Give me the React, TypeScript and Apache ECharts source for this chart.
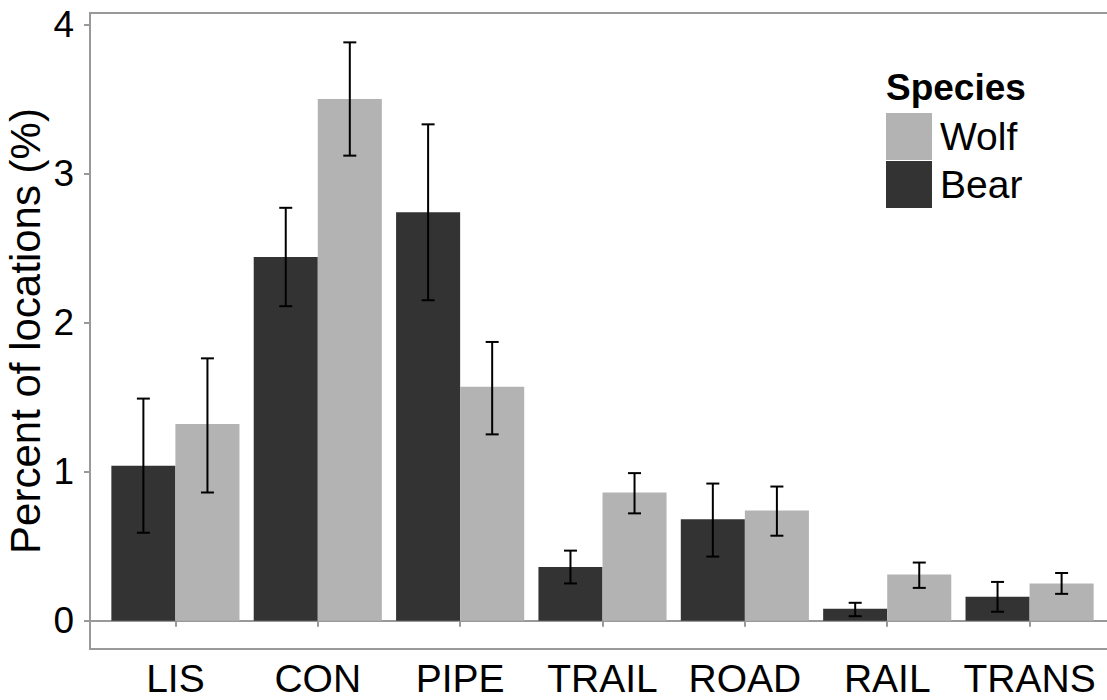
import React, { useEffect, useRef } from "react";
import * as echarts from "echarts";

const categories = ["LIS", "CON", "PIPE", "TRAIL", "ROAD", "RAIL", "TRANS"];
const bearMean = [1.04, 2.44, 2.74, 0.36, 0.68, 0.08, 0.16];
const bearLow = [0.59, 2.11, 2.15, 0.25, 0.43, 0.03, 0.06];
const bearHigh = [1.49, 2.77, 3.33, 0.47, 0.92, 0.12, 0.26];
const wolfMean = [1.32, 3.5, 1.57, 0.86, 0.74, 0.31, 0.25];
const wolfLow = [0.86, 3.12, 1.25, 0.72, 0.57, 0.22, 0.18];
const wolfHigh = [1.76, 3.88, 1.87, 0.99, 0.9, 0.39, 0.32];
const yTicks = [0, 1, 2, 3, 4];
const xTicks = [1, 2, 3, 4, 5, 6, 7];

const BEAR = "#333333";
const WOLF = "#b3b3b3";
const FONT = "'Liberation Sans', Arial, sans-serif";
const HALF = 0.225;

function barRender(offset: number) {
  return (params: any, api: any) => {
    const x = api.value(0) + offset;
    const v = api.value(1);
    const p1 = api.coord([x - HALF, v]);
    const p2 = api.coord([x + HALF, 0]);
    return {
      type: "rect",
      shape: { x: p1[0], y: p1[1], width: p2[0] - p1[0], height: p2[1] - p1[1] },
      style: { fill: api.visual("color") },
    };
  };
}

function errRender(offset: number) {
  return (params: any, api: any) => {
    const x = api.value(0) + offset;
    const lo = api.coord([x, api.value(1)]);
    const hi = api.coord([x, api.value(2)]);
    const cap = 6.5;
    const st = { stroke: "#000", lineWidth: 2 };
    return {
      type: "group",
      children: [
        { type: "line", shape: { x1: lo[0], y1: lo[1], x2: hi[0], y2: hi[1] }, style: st },
        { type: "line", shape: { x1: lo[0] - cap, y1: lo[1], x2: lo[0] + cap, y2: lo[1] }, style: st },
        { type: "line", shape: { x1: hi[0] - cap, y1: hi[1], x2: hi[0] + cap, y2: hi[1] }, style: st },
      ],
    };
  };
}

export default function App() {
  const ref = useRef<HTMLDivElement>(null);
  useEffect(() => {
    const chart = echarts.init(ref.current!, null, { renderer: "svg" });
    const bearData = categories.map((_, i) => [i + 1, bearMean[i]]);
    const wolfData = categories.map((_, i) => [i + 1, wolfMean[i]]);
    const bearErr = categories.map((_, i) => [i + 1, bearLow[i], bearHigh[i]]);
    const wolfErr = categories.map((_, i) => [i + 1, wolfLow[i], wolfHigh[i]]);
    chart.setOption({
      animation: false,
      backgroundColor: "#ffffff",
      title: {
        text: "Species",
        left: 881,
        top: 64,
        textStyle: { fontFamily: FONT, fontSize: 37, fontWeight: "bold", color: "#000" },
      },
      legend: {
        orient: "vertical",
        left: 881,
        top: 108,
        itemWidth: 46,
        itemHeight: 47,
        itemGap: 1,
        data: [
          { name: "Wolf", icon: "rect" },
          { name: "Bear", icon: "rect" },
        ],
        textStyle: { fontFamily: FONT, fontSize: 39, color: "#000", padding: [4, 0, 0, 3] },
      },
      grid: {
        left: 90,
        top: 13,
        width: 1025,
        height: 636,
        show: true,
        borderColor: "#999999",
        borderWidth: 2,
        containLabel: false,
        outerBoundsMode: "none",
      },
      xAxis: {
        type: "value",
        min: 0.4,
        max: 7.6,
        splitLine: { show: false },
        axisLine: { show: true, lineStyle: { color: "#999999", width: 2 } },
        axisTick: { show: true, length: 6, lineStyle: { color: "#999999", width: 2 }, customValues: xTicks },
        axisLabel: {
          customValues: xTicks,
          formatter: (v: number) => categories[Math.round(v) - 1] ?? "",
          fontFamily: FONT,
          fontSize: 39,
          color: "#000",
          margin: 10,
        },
      },
      yAxis: {
        type: "value",
        min: -0.19,
        max: 4.077,
        splitLine: { show: false },
        axisLine: { show: true, lineStyle: { color: "#999999", width: 2 } },
        axisTick: { show: true, length: 6, lineStyle: { color: "#999999", width: 2 }, customValues: yTicks },
        axisLabel: {
          customValues: yTicks,
          fontFamily: FONT,
          fontSize: 37,
          color: "#000",
          margin: 16,
        },
        name: "Percent of locations (%)",
        nameLocation: "middle",
        nameGap: 44,
        nameMoveOverlap: false,
        nameTextStyle: { fontFamily: FONT, fontSize: 42, lineHeight: 42, color: "#000" },
      },
      series: [
        { name: "Bear", type: "custom", data: bearData, renderItem: barRender(-HALF), itemStyle: { color: BEAR }, z: 2 },
        { name: "Wolf", type: "custom", data: wolfData, renderItem: barRender(HALF), itemStyle: { color: WOLF }, z: 2 },
        { name: "BearErr", type: "custom", data: bearErr, renderItem: errRender(-HALF), z: 3 },
        { name: "WolfErr", type: "custom", data: wolfErr, renderItem: errRender(HALF), z: 3 },
      ],
    });
    return () => chart.dispose();
  }, []);
  return <div ref={ref} style={{ position: "fixed", left: 0, top: 0, width: 1107, height: 700 }} />;
}
